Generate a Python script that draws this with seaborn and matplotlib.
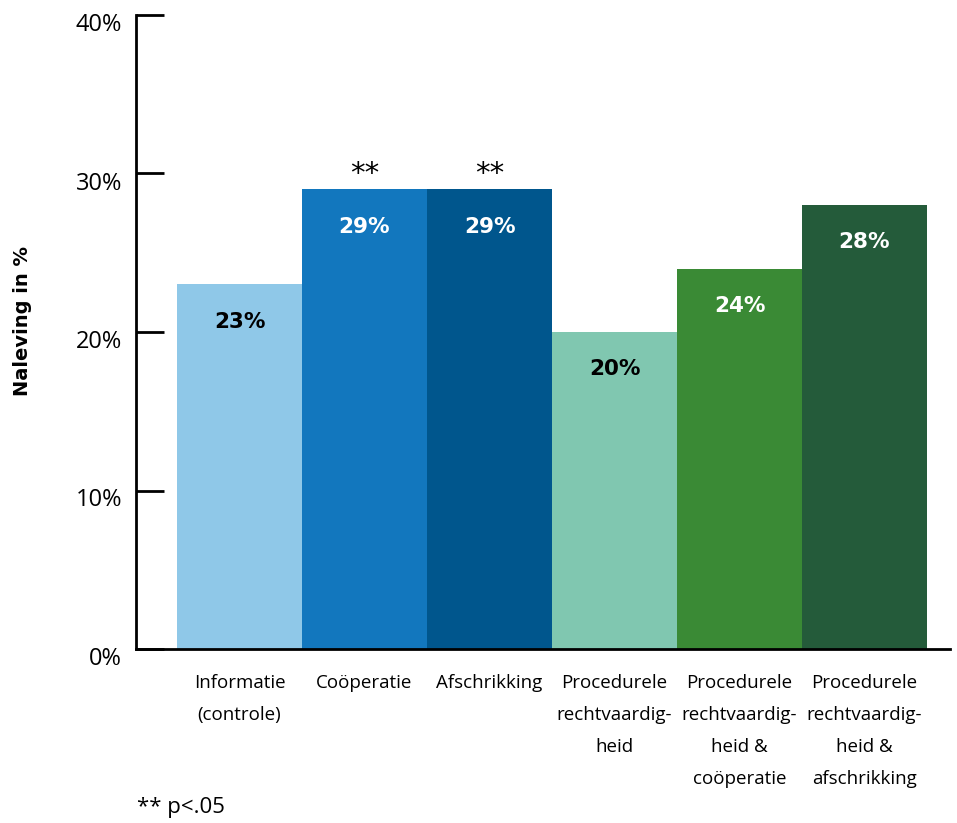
import matplotlib
matplotlib.use("Agg")
import matplotlib.pyplot as plt
import matplotlib.transforms as mtransforms
import seaborn as sns
import pandas as pd

categories = [
    "Informatie\n(controle)",
    "Coöperatie",
    "Afschrikking",
    "Procedurele\nrechtvaardig-\nheid",
    "Procedurele\nrechtvaardig-\nheid &\ncoöperatie",
    "Procedurele\nrechtvaardig-\nheid &\nafschrikking",
]
values = [23, 29, 29, 20, 24, 28]
value_labels = ["23%", "29%", "29%", "20%", "24%", "28%"]
significance = ["", "**", "**", "", "", ""]
colors = ["#8fc8e8", "#1277be", "#00568d", "#80c7b0", "#3a8a35", "#245b3a"]
label_colors = ["black", "white", "white", "black", "white", "white"]
yticks = [0, 10, 20, 30, 40]
ytick_labels = ["0%", "10%", "20%", "30%", "40%"]
ylabel = "Naleving in %"
footnote = "** p<.05"

sns.set_theme(style="white")
plt.rcParams["font.family"] = ["Open Sans", "DejaVu Sans"]

df = pd.DataFrame({"cat": categories, "val": values})

fig = plt.figure(figsize=(9.57, 8.23), dpi=100)
ax = fig.add_axes([136 / 957, 174 / 823, (950 - 136) / 957, (649 - 15) / 823])

sns.barplot(data=df, x="cat", y="val", hue="cat", palette=colors, width=1.0,
            saturation=1, legend=False, ax=ax, edgecolor="none", linewidth=0)

ax.set_xlim(-0.828, 5.684)
ax.set_ylim(0, 40)
ax.set_yticks(yticks)
ax.set_yticklabels(ytick_labels, fontsize=17, color="black")
ax.tick_params(axis="y", left=True, direction="in", length=20, width=2,
               color="black", pad=10)
offset = mtransforms.ScaledTranslation(0, -7 / 100, fig.dpi_scale_trans)
for lab in ax.get_yticklabels():
    lab.set_transform(lab.get_transform() + offset)

ax.set_xticks(range(len(categories)))
ax.set_xticklabels(categories, fontsize=13.5, color="black", linespacing=2.0,
                   va="top")
ax.tick_params(axis="x", bottom=False, length=0, pad=18)

for side in ["top", "right"]:
    ax.spines[side].set_visible(False)
for side in ["left", "bottom"]:
    ax.spines[side].set_color("black")
    ax.spines[side].set_linewidth(2)

ax.set_xlabel("")
ax.set_ylabel(ylabel, fontsize=14, fontweight="bold", color="black",
              family=["DejaVu Sans"])
ax.yaxis.set_label_coords(-(136 - 32) / 814, (649 - 321) / 634)

for i, (v, t, c, s) in enumerate(zip(values, value_labels, label_colors, significance)):
    ax.text(i, v - 2.35, t, ha="center", va="center", color=c, fontsize=15.5,
            fontweight="bold", family=["DejaVu Sans"])
    if s:
        ax.text(i, v + 0.95, s, ha="center", va="center", color="black", fontsize=21,
                family=["DejaVu Sans"])

fig.text(137 / 957, 1 - 808 / 823, footnote, ha="left", va="center", fontsize=16,
         color="black")

fig.savefig("out.png", dpi=100)
